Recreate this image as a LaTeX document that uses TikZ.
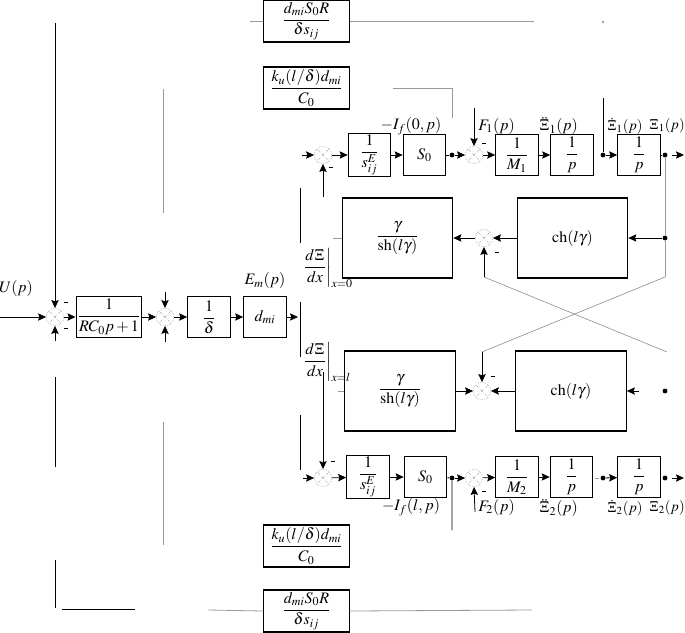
\documentclass[tikz,border=0pt]{standalone}
\usepackage{amsmath}
\usepackage{mathptmx}
\usetikzlibrary{positioning, arrows, arrows.meta, calc}
\tikzset{
    blk/.style={ % transfer function block
        draw, thick,
        minimum width=32pt, minimum height=31pt,
        inner sep=1pt, font=\large
    },
    wide/.style={minimum width=64pt, minimum height=31.5pt}, % feedback gains
    big/.style={minimum width=83pt, minimum height=60pt},    % line blocks
    sum/.style={ % summing junction
        circle, draw=gray, densely dotted, thin,
        minimum size=13pt, inner sep=0pt,
        path picture={
            \draw[gray, densely dotted]
                (path picture bounding box.north west) -- (path picture bounding box.south east)
                (path picture bounding box.north east) -- (path picture bounding box.south west);
        }
    },
    dot/.style={circle, fill, inner sep=1.3pt},
    lbl/.style={inner sep=0pt, font=\large},
    xlbl/.style={inner sep=0pt, font=\fontsize{11}{13}\selectfont}, % outputs at the right edge
    minus/.style={inner sep=0pt},
    every edge/.style={ % signal lines
        draw,
        -{Stealth[length=6pt, width=5.5pt, inset=1pt]},
        semithick
    },
}
\newcommand{\mns}{\rule[0.5ex]{3.5pt}{1pt}} % minus mark at a junction

\begin{document}
\begin{tikzpicture}[x=0.75pt, y=-0.75pt]
    \tikzset{
        gline/.style={draw=gray!80, semithick},
        fine/.style={draw=gray, thin}
    }
    \useasboundingbox (0,0) rectangle (685,632);

    % input part
    \node[lbl]                  (lU)   at (16,288)  {$U(p)$};
    \node[sum]                  (sA)   at (55,317)  {};
    \node[blk, minimum width=48pt] (bRC) at (109,317) {$\dfrac{1}{RC_0p+1}$};
    \node[sum]                  (sB)   at (165,317) {};
    \node[blk]                  (bDel) at (209,317) {$\dfrac{1}{\delta}$};
    \node[blk]                  (bD)   at (265,317) {$d_{mi}$};
    \node[lbl, above=5pt of bD] (lEm)  {$E_m(p)$};
    \node[minus] (mA1) at (66,304) {\mns};
    \node[minus] (mA2) at (66,330) {\mns};

    \coordinate (uIn)  at (0,317);
    \coordinate (lTop) at (55,23);
    \coordinate (sAs)  at (55,341);
    \coordinate (sBn)  at (165,292);
    \coordinate (sBs)  at (165,342);
    \coordinate (dOut) at (298,317);
    \draw   (uIn)  edge (sA)
            (lTop) edge (sA.north)
            (sAs)  edge (sA.south)
            (sA)   edge (bRC)
            (bRC)  edge (sB)
            (sBn)  edge (sB.north)
            (sBs)  edge (sB.south)
            (sB)   edge (bDel)
            (bDel) edge (bD)
            (bD)   edge (dOut)
    ;

    % feedback gains
    \node[blk, wide] (bTopR) at (306.5,21)  {$\dfrac{d_{mi}S_0R}{\delta s_{ij}}$};
    \node[blk, wide] (bTopK) at (306.5,88)  {$\dfrac{k_u(l/\delta)d_{mi}}{C_0}$};
    \node[blk, wide] (bBotK) at (306.5,546) {$\dfrac{k_u(l/\delta)d_{mi}}{C_0}$};
    \node[blk, wide] (bBotR) at (306.5,611) {$\dfrac{d_{mi}S_0R}{\delta s_{ij}}$};
    \node[dot, inner sep=0.6pt, gray] (tDot) at (603,22) {};

    \coordinate (tL) at (250,21);
    \coordinate (tR) at (534,21);
    \coordinate (hC) at (208,610);
    \coordinate (hD) at (532,610);
    \coordinate (kA) at (393,88);
    \coordinate (kC) at (452,118);
    \draw[gline] (tL) -- (bTopR.west) (bTopR.east) -- (tR);
    \draw[gline] (hC) -- (bBotR.west) (bBotR.east) -- (hD);
    \draw[gline] (kA) -| (kC);

    % loose wires on the left
    \coordinate (lA) at (55,377);
    \coordinate (lB) at (55,467);
    \coordinate (lC) at (55,560);
    \coordinate (lD) at (55,608);
    \coordinate (hA) at (62,609);
    \coordinate (hB) at (135,609);
    \coordinate (gA) at (163,89);
    \coordinate (gB) at (163,213);
    \coordinate (gC) at (163,422);
    \coordinate (gD) at (163,545);
    \draw[semithick] (lA) -- (lB) (lC) -- (lD) (hA) -- (hB);
    \draw[gline] (gA) -- (gB) (gC) -- (gD);

    % distribution line
    \coordinate (vA) at (300,188);
    \coordinate (vB) at (300,243);
    \coordinate (vC) at (300,302);
    \coordinate (vD) at (300,357);
    \coordinate (vE) at (300,415);
    \coordinate (vF) at (300,470);
    \draw[semithick] (vA) -- (vB) (vC) -- (vD) (vE) -- (vF);
    \node[lbl, anchor=west] (lDx0) at (302,268) {$\left.\dfrac{d\Xi}{dx}\right|_{x=0}$};
    \node[lbl, anchor=west] (lDxl) at (302,362) {$\left.\dfrac{d\Xi}{dx}\right|_{x=l}$};

    % upper chain
    \node[sum]       (sC)  at (323,155)   {};
    \node[blk]       (bS1) at (369.5,155) {$\dfrac{1}{s_{ij}^E}$};
    \node[blk]       (bS0) at (424.5,155) {$S_0$};
    \node[dot]       (dA)  at (452,155)   {};
    \node[sum]       (sD)  at (474,155)   {};
    \node[blk]       (bM1) at (517,155)   {$\dfrac{1}{M_1}$};
    \node[blk]       (bP1) at (572,155)   {$\dfrac{1}{p}$};
    \node[dot]       (dB)  at (603,155)   {};
    \node[blk]       (bP2) at (639,155)   {$\dfrac{1}{p}$};
    \node[dot]       (dC)  at (665,155)   {};
    \node[minus] (mC) at (331,169) {\mns};
    \node[minus] (mD) at (484,145) {\mns};
    \node[lbl]               (lIf0) at (411,126) {$-I_f(0,p)$};
    \node[lbl, anchor=west]  (lF1)  at (478,126) {$F_1(p)$};
    \node[lbl, anchor=west]  (lX1a) at (539,126) {$\ddot{\Xi}_1(p)$};
    \node[xlbl, anchor=west] (lX1b) at (607,126) {$\dot{\Xi}_1(p)$};
    \node[xlbl, anchor=east] (lX1c) at (685,126) {$\Xi_1(p)$};

    \coordinate (cIn)   at (302,155);
    \coordinate (cUp)   at (323,197);
    \coordinate (fOne)  at (474,108);
    \coordinate (xiTop) at (603,98);
    \coordinate (oA)    at (672,155);
    \coordinate (oB)    at (684,155);
    \draw   (cIn)  edge (sC)
            (cUp)  edge (sC.south)
            (sC)   edge (bS1)
            (bS1)  edge (bS0)
            (dA)   edge (sD)
            (fOne) edge (sD.north)
            (sD)   edge (bM1)
            (bM1)  edge (bP1)
            (dB)   edge (bP2)
            (oA)   edge (oB)
    ;
    \draw[semithick] (bS0) -- (dA) (xiTop) -- (dB) (bP2) -- (dC);

    % wave blocks, x = 0
    \node[blk, big] (bGa) at (397.5,238) {$\dfrac{\gamma}{\mathrm{sh}(l\gamma)}$};
    \node[sum]      (sE)  at (484,238)   {};
    \node[blk, big] (bCa) at (572.5,238) {$\mathrm{ch}(l\gamma)$};
    \node[dot]      (dD)  at (665,238)   {};
    \node[minus] (mE) at (497,254) {\mns};

    \coordinate (gaL)  at (333,238);
    \coordinate (xA)   at (484,277);
    \coordinate (xB)   at (667,352);
    \coordinate (rBot) at (665,277);
    \coordinate (xD)   at (482,352);
    \draw[gline] (gaL) -- (bGa.west) (dC) -- (dD) -- (rBot);
    \draw[fine] (xA) -- (xB) (rBot) -- (xD);
    \draw   (dD)  edge (bCa)
            (bCa) edge (sE)
            (sE)  edge (bGa)
            (xA)  edge (sE.south)
    ;

    % wave blocks, x = l
    \node[blk, big] (bGb) at (400,391) {$\dfrac{\gamma}{\mathrm{sh}(l\gamma)}$};
    \node[sum]      (sF)  at (482,391) {};
    \node[blk, big] (bCb) at (571,391) {$\mathrm{ch}(l\gamma)$};
    \node[dot]      (dE)  at (665,391) {};
    \node[minus] (mF) at (493,378) {\mns};

    \coordinate (gbL) at (338,391);
    \coordinate (cbR) at (639,391);
    \draw[gline] (gbL) -- (bGb.west);
    \draw   (xD)  edge (sF.north)
            (bGb) edge (sF)
            (bCb) edge (sF)
            (cbR) edge (bCb.east)
    ;

    % lower chain
    \node[sum]       (sG)   at (323,478)   {};
    \node[blk]       (bS1b) at (368,477)   {$\dfrac{1}{s_{ij}^E}$};
    \node[blk]       (bS0b) at (425.5,477) {$S_0$};
    \node[dot]       (dF)   at (452,478)   {};
    \node[sum]       (sH)   at (474,478)   {};
    \node[blk]       (bM2)  at (517,477)   {$\dfrac{1}{M_2}$};
    \node[blk]       (bP3)  at (571.5,477) {$\dfrac{1}{p}$};
    \node[dot]       (dG)   at (603,478)   {};
    \node[blk]       (bP4)  at (639,477)   {$\dfrac{1}{p}$};
    \node[dot]       (dH)   at (665,478)   {};
    \node[minus] (mG) at (333,463) {\mns};
    \node[minus] (mH) at (484,493) {\mns};
    \node[lbl]               (lIfl) at (411,507) {$-I_f(l,p)$};
    \node[lbl, anchor=west]  (lF2)  at (478,507) {$F_2(p)$};
    \node[lbl, anchor=west]  (lX2a) at (539,508) {$\ddot{\Xi}_2(p)$};
    \node[xlbl, anchor=west] (lX2b) at (607,508) {$\dot{\Xi}_2(p)$};
    \node[xlbl, anchor=east] (lX2c) at (685,508) {$\Xi_2(p)$};

    \coordinate (gIn)  at (303,478);
    \coordinate (gUp)  at (323,372);
    \coordinate (fdn)  at (452,530);
    \coordinate (fTwo) at (475,512);
    \coordinate (pA)   at (595,478);
    \coordinate (pB)   at (599,478);
    \coordinate (qA)   at (672,478);
    \coordinate (qB)   at (684,478);
    \draw   (gIn)  edge (sG)
            (gUp)  edge (sG.north)
            (sG)   edge (bS1b)
            (bS1b) edge (bS0b)
            (dF)   edge (sH)
            (fTwo) edge (sH.south)
            (sH)   edge (bM2)
            (bM2)  edge (bP3)
            (dG)   edge (bP4)
            (qA)   edge (qB)
    ;
    \draw[semithick] (bS0b) -- (dF) -- (fdn);
    \draw[gline] (pA) -- (pB);
\end{tikzpicture}
\end{document}
